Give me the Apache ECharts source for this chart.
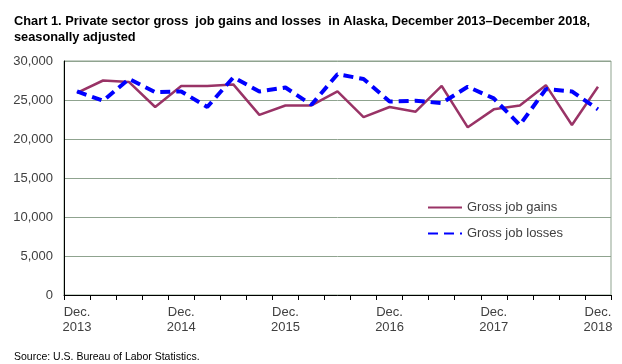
<!DOCTYPE html>
<html>
<head>
<meta charset="utf-8">
<script src="https://cdn.jsdelivr.net/npm/echarts@6/dist/echarts.min.js"></script>
<style>
html,body{margin:0;padding:0;background:#fff;}
#c{width:622px;height:364px;}
</style>
</head>
<body>
<div id="c"></div>
<script>
const quarters = ['Dec.\n2013','Mar.\n2014','Jun.\n2014','Sep.\n2014','Dec.\n2014','Mar.\n2015','Jun.\n2015','Sep.\n2015','Dec.\n2015','Mar.\n2016','Jun.\n2016','Sep.\n2016','Dec.\n2016','Mar.\n2017','Jun.\n2017','Sep.\n2017','Dec.\n2017','Mar.\n2018','Jun.\n2018','Sep.\n2018','Dec.\n2018'];
const gains = [25900,27500,27300,24100,26800,26800,27000,23100,24300,24300,26100,22800,24100,23500,26800,21500,23800,24300,26900,21800,26700];
const losses = [26100,24900,27700,26000,26100,24100,27900,26100,26600,24400,28300,27700,24800,24900,24600,26700,25200,21800,26400,26100,23800];
const yTicks = [0,5000,10000,15000,20000,25000,30000];
const titleText = 'Chart 1. Private sector gross  job gains and losses  in Alaska, December 2013\u2013December 2018,\nseasonally adjusted';
const sourceText = 'Source: U.S. Bureau of Labor Statistics.';

const chart = echarts.init(document.getElementById('c'), null, {renderer:'canvas'});
const gridColor = '#8FA38F';
chart.setOption({
  animation:false,
  textStyle:{fontFamily:'Liberation Sans'},
  title:[{
    text:titleText, left:9, top:8,
    textStyle:{fontFamily:'Liberation Sans', fontWeight:'bold', fontSize:12.8, color:'#000', lineHeight:16}
  },{
    text:sourceText, left:9, top:347,
    textStyle:{fontFamily:'Liberation Sans', fontWeight:'normal', fontSize:10.5, color:'#000'}
  }],
  legend:{
    orient:'vertical', left:422, top:196, itemGap:13, itemWidth:34, itemHeight:10,
    textStyle:{fontSize:13, color:'#404040', fontFamily:'Liberation Sans'},
    itemStyle:{opacity:0},
    data:['Gross job gains','Gross job losses']
  },
  grid:{left:64, right:11, top:61, bottom:69, show:true, borderColor:gridColor, borderWidth:1},
  xAxis:{
    type:'category', data:quarters, boundaryGap:true,
    axisLine:{lineStyle:{color:'#000', width:1}},
    axisTick:{show:true, interval:0, length:5, lineStyle:{color:'#000'}},
    axisLabel:{interval:0, color:'#404040', fontSize:13, lineHeight:15, margin:10,
      formatter:(v,i)=> (i%4===0 ? v : '')},
    splitLine:{show:false}
  },
  yAxis:{
    type:'value', min:0, max:30000, interval:5000,
    axisLine:{show:true, lineStyle:{color:'#000', width:1}},
    axisTick:{show:false},
    axisLabel:{color:'#404040', fontSize:13, margin:11,
      formatter:v=> yTicks.includes(v) ? v.toLocaleString('en-US') : ''},
    splitLine:{show:true, lineStyle:{color:gridColor, width:1}}
  },
  series:[{
    name:'Gross job gains', type:'line', data:gains, symbol:'none',
    lineStyle:{color:'#993366', width:2.5}, itemStyle:{color:'#993366'}
  },{
    name:'Gross job losses', type:'line', data:losses, symbol:'none',
    lineStyle:{color:'#0000FF', width:4, type:[10,6]}, itemStyle:{color:'#0000FF'}
  }]
});
</script>
</body>
</html>
